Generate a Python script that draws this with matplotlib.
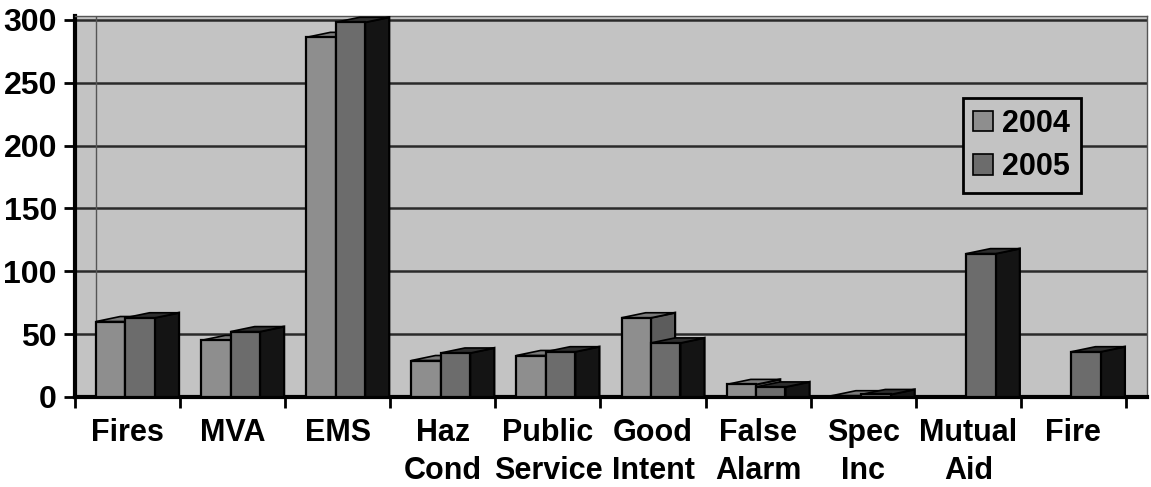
import matplotlib
matplotlib.use("Agg")
import matplotlib.pyplot as plt
from matplotlib.patches import Polygon, Patch
import numpy as np

# ── 数据 ──────────────────────────────────────────────────────────────
categories = ["Fires", "MVA", "EMS", "Haz\nCond", "Public\nService",
              "Good\nIntent", "False\nAlarm", "Spec\nInc", "Mutual\nAid", "Fire"]
calls_2004 = [60, 45, 286, 29, 33, 63, 10, 1, 0, 0]
calls_2005 = [63, 52, 298, 35, 36, 43, 8, 2, 114, 36]
years = ["2004", "2005"]
y_ticks = [0, 50, 100, 150, 200, 250, 300]

plt.rcParams["font.family"] = ["Liberation Sans", "DejaVu Sans"]
plt.rcParams["font.weight"] = "bold"
plt.rcParams["font.size"] = 22

BG = "#c3c3c3"
DX, DY = 0.23, 4.0   # 伪 3D 深度偏移


def draw_columns(ax, xs, heights, w, front, side, top, z):
    bars = ax.bar(xs, heights, width=w, align="edge", color=front,
                  edgecolor="black", linewidth=1.6, zorder=z + 1)
    for b, h in zip(bars, heights):
        if h <= 0:
            continue
        x0 = b.get_x()
        x1 = x0 + b.get_width()
        ax.add_patch(Polygon([(x1, 0), (x1 + DX, 0), (x1 + DX, h + DY), (x1, h)],
                             closed=True, facecolor=side, edgecolor="black",
                             linewidth=1.6, zorder=z))
        ax.add_patch(Polygon([(x0, h), (x1, h), (x1 + DX, h + DY), (x0 + DX, h + DY)],
                             closed=True, facecolor=top, edgecolor="black",
                             linewidth=1.2, zorder=z))
    return bars


fig = plt.figure(figsize=(11.51, 4.87), dpi=100)
ax = fig.add_axes([75 / 1151, 90 / 487, (1147 - 75) / 1151, (397 - 16) / 487])
ax.set_facecolor(BG)

n = len(categories)
idx = np.arange(n)
draw_columns(ax, idx - 0.30, calls_2004, 0.28, "#8e8e8e", "#5c5c5c", "#7a7a7a", 2)
draw_columns(ax, idx - 0.02, calls_2005, 0.28, "#6c6c6c", "#141414", "#2e2e2e", 4)

ax.set_xlim(-0.5, 9.7)
ax.set_ylim(0, 303)

# 网格与墙角
ax.set_axisbelow(True)
ax.yaxis.grid(True, color="#2a2a2a", linewidth=1.8)
ax.axvline(-0.3, color="#555555", linewidth=1.0, zorder=1)

for side_name in ["left", "bottom"]:
    ax.spines[side_name].set_linewidth(3)
    ax.spines[side_name].set_color("black")
for side_name in ["top", "right"]:
    ax.spines[side_name].set_linewidth(1)
    ax.spines[side_name].set_color("#555555")

ax.set_yticks(y_ticks)
ax.set_yticklabels([str(v) for v in y_ticks], fontsize=23)
ax.tick_params(axis="y", length=8, width=2, pad=5)

ax.set_xticks(np.arange(-0.5, n, 1.0))
ax.set_xticklabels([])
ax.tick_params(axis="x", which="major", length=8, width=2)
ax.set_xticks(idx, categories, minor=True)
ax.tick_params(axis="x", which="minor", length=0, pad=15)
for lbl in ax.get_xticklabels(minor=True):
    lbl.set_linespacing(1.36)

handles = [Patch(facecolor="#8e8e8e", edgecolor="black", linewidth=1.2),
           Patch(facecolor="#6c6c6c", edgecolor="black", linewidth=1.2)]
leg = ax.legend(handles, years, loc="upper left", bbox_to_anchor=(0.828, 0.785),
                fancybox=False, framealpha=1, facecolor=BG, edgecolor="black",
                handlelength=0.65, handleheight=0.65, handletextpad=0.3,
                labelspacing=0.45, borderpad=0.35, borderaxespad=0)
leg.get_frame().set_linewidth(2)
leg.set_zorder(10)

fig.savefig("out.png", dpi=100, facecolor="white")
